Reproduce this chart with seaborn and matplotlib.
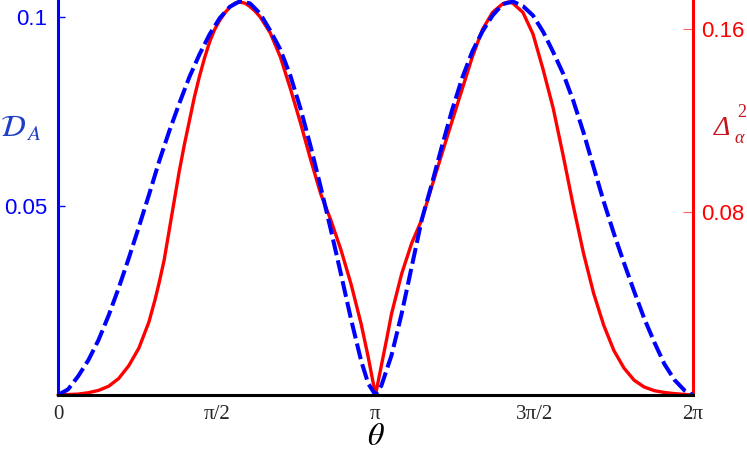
import numpy as np
import pandas as pd
import matplotlib
matplotlib.use('Agg')
import matplotlib.pyplot as plt
import seaborn as sns

# ------------------------------------------------------------
# data (theta in radians)
# ------------------------------------------------------------
theta_blue = [0.00, 0.10, 0.20, 0.30, 0.40, 0.50, 0.60, 0.70, 0.80, 0.90,
              1.00, 1.10, 1.20, 1.30, 1.40, 1.50, 1.60, 1.70, 1.80, 1.90,
              2.00, 2.10, 2.20, 2.30, 2.40, 2.50, 2.60, 2.70, 2.80, 2.90,
              3.00, 3.07, 3.1416,
              3.20, 3.30, 3.40, 3.50, 3.60, 3.70, 3.80, 3.90, 4.00, 4.10,
              4.20, 4.30, 4.40, 4.50, 4.60, 4.70, 4.80, 4.90, 5.00, 5.10,
              5.20, 5.30, 5.40, 5.50, 5.60, 5.70, 5.80, 5.90, 6.00, 6.10,
              6.20, 6.2832]
d_a = [0.0000, 0.0015, 0.0050, 0.0092, 0.0145, 0.0210, 0.0283, 0.0362, 0.0445, 0.0530,
       0.0618, 0.0698, 0.0772, 0.0842, 0.0902, 0.0955, 0.0998, 0.1028, 0.1043, 0.1037,
       0.1010, 0.0965, 0.0915, 0.0845, 0.0758, 0.0658, 0.0550, 0.0437, 0.0320, 0.0200,
       0.0090, 0.0030, 0.0000,
       0.0025, 0.0105, 0.0215, 0.0340, 0.0465, 0.0560, 0.0660, 0.0755, 0.0840, 0.0910,
       0.0963, 0.1005, 0.1035, 0.1042, 0.1030, 0.1005, 0.0962, 0.0908, 0.0850, 0.0778,
       0.0695, 0.0603, 0.0512, 0.0428, 0.0350, 0.0275, 0.0203, 0.0140, 0.0082, 0.0040,
       0.0012, 0.0000]

theta_red = [0.00, 0.20, 0.30, 0.40, 0.50, 0.60, 0.70, 0.80, 0.90, 0.96,
             1.00, 1.05, 1.10, 1.15, 1.20, 1.25, 1.30, 1.35, 1.40, 1.45,
             1.50, 1.55, 1.60, 1.65, 1.70, 1.75, 1.80, 1.85, 1.90, 1.95,
             2.00, 2.10, 2.20, 2.30, 2.40, 2.50, 2.60, 2.70, 2.80, 2.90,
             3.00, 3.07, 3.1416,
             3.20, 3.25, 3.30, 3.40, 3.50, 3.60, 3.70, 3.80, 3.90, 4.00,
             4.10, 4.20, 4.30, 4.40, 4.45, 4.50, 4.60, 4.70, 4.80, 4.90,
             5.00, 5.10, 5.20, 5.30, 5.40, 5.50, 5.60, 5.70, 5.80, 5.90,
             6.00, 6.10, 6.2832]
delta_sq = [0.0000, 0.0004, 0.0010, 0.0020, 0.0038, 0.0072, 0.0128, 0.0205, 0.0320, 0.0417,
            0.0490, 0.0590, 0.0720, 0.0850, 0.0980, 0.1095, 0.1200, 0.1305, 0.1395, 0.1475,
            0.1545, 0.1600, 0.1640, 0.1672, 0.1698, 0.1715, 0.1720, 0.1715, 0.1700, 0.1680,
            0.1655, 0.1585, 0.1480, 0.1340, 0.1190, 0.1030, 0.0880, 0.0765, 0.0635, 0.0485,
            0.0310, 0.0165, 0.0000,
            0.0130, 0.0240, 0.0355, 0.0530, 0.0665, 0.0768, 0.0915, 0.1058, 0.1200, 0.1340,
            0.1480, 0.1600, 0.1675, 0.1712, 0.1720, 0.1715, 0.1675, 0.1580, 0.1425, 0.1255,
            0.1045, 0.0825, 0.0620, 0.0445, 0.0305, 0.0195, 0.0118, 0.0065, 0.0035, 0.0019,
            0.0011, 0.0006, 0.0000]

xtick_pos = [0, np.pi / 2, np.pi, 3 * np.pi / 2, 2 * np.pi]
xtick_lab = ['0', 'π/2', 'π', '3π/2', '2π']
left_ticks = [0.05, 0.1]
left_labels = ['0.05', '0.1']
right_ticks = [0.08, 0.16]
right_labels = ['0.08', '0.16']

df_blue = pd.DataFrame({'theta': theta_blue, 'D_A': d_a})
df_red = pd.DataFrame({'theta': theta_red, 'Delta2': delta_sq})

# ------------------------------------------------------------
# figure
# ------------------------------------------------------------
sns.set_style('white')
plt.rcParams['font.family'] = ['Liberation Sans', 'DejaVu Sans']
plt.rcParams['mathtext.fontset'] = 'stix'

fig = plt.figure(figsize=(7.47, 4.51), dpi=100)
ax = fig.add_axes([58 / 747, 1 - 395 / 451, 635 / 747, 395 / 451])
ax2 = ax.twinx()

sns.lineplot(data=df_red, x='theta', y='Delta2', ax=ax2, color='#ff0000',
             linewidth=2.4, sort=False, estimator=None, clip_on=False)
sns.lineplot(data=df_blue, x='theta', y='D_A', ax=ax, color='#0000ff',
             linewidth=2.9, linestyle=(0, (4.0, 1.3)), sort=False,
             estimator=None, clip_on=False)

# blue axis drawn above the red one
ax.set_zorder(ax2.get_zorder() + 1)
ax.patch.set_visible(False)

ax.set_xlim(0, 2 * np.pi)
ax.set_ylim(0, 0.1046)
ax2.set_ylim(0, 0.1729)

# spines
for a in (ax, ax2):
    a.spines['top'].set_visible(False)
ax.spines['right'].set_visible(False)
ax2.spines['left'].set_visible(False)
ax2.spines['bottom'].set_visible(False)
ax.spines['left'].set_color('#0000ff')
ax.spines['left'].set_linewidth(2.2)
ax.spines['bottom'].set_color('black')
ax.spines['bottom'].set_linewidth(2.2)
ax2.spines['right'].set_color('#ff0000')
ax2.spines['right'].set_linewidth(2.2)

# ticks
ax.set_xticks(xtick_pos)
ax.set_xticklabels(xtick_lab, fontfamily='Liberation Serif', fontsize=15)
ax.tick_params(axis='x', direction='in', length=5, width=0.8, color='black', pad=7)

ax.set_yticks(left_ticks)
ax.set_yticklabels(left_labels, fontsize=16, color='#0000ff')
ax.tick_params(axis='y', direction='in', length=5, width=1, color='#0000ff', pad=8)

ax2.set_yticks(right_ticks)
ax2.set_yticklabels(right_labels, fontsize=16, color='#ff0000')
ax2.tick_params(axis='y', direction='in', length=7, width=0.8, color='#ff6060', pad=6)

ax.set_xlabel('')
ax.set_ylabel('')
ax2.set_ylabel('')

# axis titles
fig.text(376 / 747, 1 - 437 / 451, r'$\theta$', ha='center', va='center',
         fontsize=23, color='black')
fig.text(0.0, 1 - 129 / 451, r'$\mathcal{D}_{\,A}$', ha='left', va='center',
         fontsize=22, color='#1f3fc8')

# right title: italic Delta with alpha below and 2 above
lab_red = '#c4161c'
fig.text(714 / 747, 1 - 135 / 451, 'Δ', ha='left', va='baseline', fontsize=20,
         fontfamily='Liberation Serif', fontstyle='italic', color=lab_red)
fig.text(734 / 747, 1 - 143 / 451, 'α', ha='left', va='baseline', fontsize=13,
         fontfamily='Liberation Serif', fontstyle='italic', color=lab_red)
fig.text(737 / 747, 1 - 117 / 451, '2', ha='left', va='baseline', fontsize=13,
         fontfamily='Liberation Serif', color=lab_red)

fig.savefig('out.png', dpi=100)
plt.close()
